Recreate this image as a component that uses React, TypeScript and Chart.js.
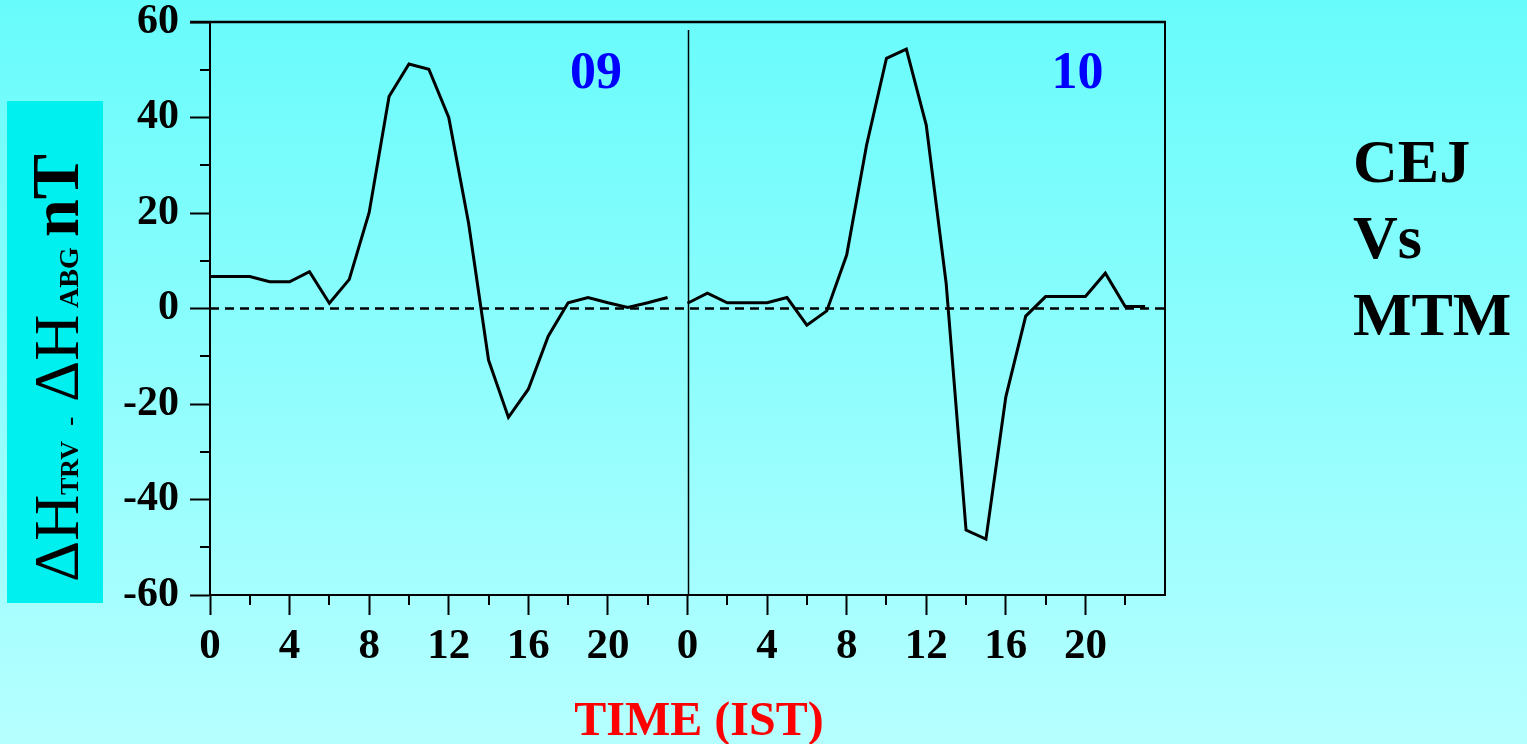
import React, { useEffect, useRef } from 'react';
import { Chart, registerables } from 'chart.js';

Chart.register(...registerables);

// Hours of the two days on one continuous axis (day 1: 0-23, day 2: 24-47)
const day1Hours = [0, 1, 2, 3, 4, 5, 6, 7, 8, 9, 10, 11, 12, 13, 14, 15, 16, 17, 18, 19, 20, 21, 22, 23];
const day2Hours = [24, 25, 26, 27, 28, 29, 30, 31, 32, 33, 34, 35, 36, 37, 38, 39, 40, 41, 42, 43, 44, 45, 46, 47];

// ΔH(TRV) - ΔH(ABG) in nT
const day1Values = [6.7, 6.7, 6.7, 5.6, 5.6, 7.7, 1.1, 6.1, 20.1, 44.4, 51.2, 50.1, 40.0, 17.8, -10.8, -22.8, -16.9, -5.8, 1.2, 2.3, 1.2, 0.2, 1.2, 2.3];
const day2Values = [1.1, 3.2, 1.2, 1.2, 1.2, 2.3, -3.5, -0.5, 11.2, 34.2, 52.4, 54.3, 38.4, 5.3, -46.4, -48.3, -18.5, -1.6, 2.5, 2.5, 2.5, 7.4, 0.4, 0.4];

// Zero reference line
const zeroLineX = [0, 48];
const zeroLineY = [0, 0];

// Axes
const xMin = 0;
const xMax = 48;
const xMajorStep = 4;
const xMinorTicks = [2, 6, 10, 14, 18, 22, 26, 30, 34, 38, 42, 46];
const dayBoundary = 24;
const yMin = -60;
const yMax = 60;
const yMajorStep = 20;
const yMinorTicks = [-50, -30, -10, 10, 30, 50];

// Day labels
const dayLabels = ['09', '10'];
const dayLabelX = [19.4, 43.6];
const dayLabelY = 49;

const sideText = ['CEJ', 'Vs', 'MTM'];
const xTitle = 'TIME (IST)';

const SERIF = '"Liberation Serif", "Times New Roman", "DejaVu Serif", serif';

const decorPlugin = {
  id: 'decor',
  beforeDraw(chart: any) {
    const { ctx, width, height } = chart;
    ctx.save();
    const g = ctx.createLinearGradient(0, 0, 0, height);
    g.addColorStop(0, '#68FBFB');
    g.addColorStop(1, '#B6FFFF');
    ctx.fillStyle = g;
    ctx.fillRect(0, 0, width, height);
    ctx.restore();
  },
  afterDraw(chart: any) {
    const { ctx, chartArea } = chart;
    const xs = chart.scales.x;
    const ys = chart.scales.y;
    const { left, right, top, bottom } = chartArea;
    ctx.save();

    // minor ticks
    ctx.strokeStyle = '#000';
    ctx.lineWidth = 2;
    ctx.beginPath();
    xMinorTicks.forEach((v) => {
      const px = Math.round(xs.getPixelForValue(v));
      ctx.moveTo(px, bottom);
      ctx.lineTo(px, bottom + 10);
    });
    yMinorTicks.forEach((v) => {
      const py = Math.round(ys.getPixelForValue(v));
      ctx.moveTo(left - 10, py);
      ctx.lineTo(left, py);
    });
    ctx.stroke();

    // top frame line
    ctx.lineWidth = 2.5;
    ctx.beginPath();
    ctx.moveTo(left - 20, top);
    ctx.lineTo(right + 1, top);
    ctx.stroke();

    // right frame line
    ctx.lineWidth = 2;
    ctx.beginPath();
    ctx.moveTo(right, top);
    ctx.lineTo(right, bottom);
    ctx.stroke();

    // day divider
    ctx.lineWidth = 1.5;
    ctx.beginPath();
    const dx = Math.round(xs.getPixelForValue(dayBoundary)) + 0.5;
    ctx.moveTo(dx, top + 8);
    ctx.lineTo(dx, bottom);
    ctx.stroke();

    // day labels
    ctx.fillStyle = '#0000FF';
    ctx.font = `bold 52px ${SERIF}`;
    ctx.textAlign = 'center';
    ctx.textBaseline = 'middle';
    dayLabels.forEach((t, i) => {
      ctx.fillText(t, xs.getPixelForValue(dayLabelX[i]), ys.getPixelForValue(dayLabelY));
    });

    // x axis title
    ctx.fillStyle = '#FF0000';
    ctx.font = `bold 48px ${SERIF}`;
    ctx.textAlign = 'center';
    ctx.textBaseline = 'alphabetic';
    ctx.fillText(xTitle, 699, 735);

    // side text
    ctx.fillStyle = '#000';
    ctx.font = `bold 62px ${SERIF}`;
    ctx.textAlign = 'left';
    const baselines = [182, 258, 335];
    sideText.forEach((t, i) => ctx.fillText(t, 1353, baselines[i]));

    // y title box
    ctx.fillStyle = '#00F0F0';
    ctx.fillRect(7, 101, 96, 502);

    // y title text (rotated)
    ctx.save();
    ctx.translate(78, 582);
    ctx.rotate(-Math.PI / 2);
    ctx.fillStyle = '#000';
    ctx.textAlign = 'left';
    ctx.textBaseline = 'alphabetic';
    const parts: [string, string, number][] = [
      ['\u0394H', `64px ${SERIF}`, 0],
      ['TRV', `bold 26px ${SERIF}`, 87],
      ['-', `28px ${SERIF}`, 156],
      ['\u0394H', `64px ${SERIF}`, 180],
      ['ABG', `bold 28px ${SERIF}`, 274],
      ['nT', `bold 68px ${SERIF}`, 345],
    ];
    parts.forEach(([t, f, off]) => {
      ctx.font = f;
      ctx.fillText(t, off, 0);
    });
    ctx.restore();

    ctx.restore();
  },
};

export default function App() {
  const canvasRef = useRef<HTMLCanvasElement | null>(null);

  useEffect(() => {
    const canvas = canvasRef.current;
    if (!canvas) return;
    const lineStyle = {
      borderColor: '#000',
      borderWidth: 3,
      pointRadius: 0,
      tension: 0,
      fill: false,
    };
    const chart = new Chart(canvas, {
      type: 'line',
      data: {
        datasets: [
          {
            label: 'Day 09',
            data: day1Hours.map((h, i) => ({ x: h, y: day1Values[i] })),
            ...lineStyle,
          },
          {
            label: 'Day 10',
            data: day2Hours.map((h, i) => ({ x: h, y: day2Values[i] })),
            ...lineStyle,
          },
          {
            label: 'Zero',
            data: zeroLineX.map((x, i) => ({ x, y: zeroLineY[i] })),
            borderColor: '#000',
            borderWidth: 2.5,
            borderDash: [9, 6],
            pointRadius: 0,
            fill: false,
          },
        ],
      },
      options: {
        responsive: false,
        animation: false,
        devicePixelRatio: 1,
        layout: { padding: { top: 22, right: 362, left: 0, bottom: 0 } },
        plugins: {
          legend: { display: false },
          tooltip: { enabled: false },
          title: { display: false },
        },
        scales: {
          x: {
            type: 'linear',
            position: 'bottom',
            min: xMin,
            max: xMax,
            ticks: {
              stepSize: xMajorStep,
              autoSkip: false,
              maxRotation: 0,
              padding: 6,
              color: '#000',
              font: { family: SERIF, size: 43, weight: 'bold' },
              callback: (v: any) => (Number(v) >= xMax ? '' : String(Number(v) % 24)),
            },
            grid: {
              drawOnChartArea: false,
              drawTicks: true,
              tickLength: 20,
              tickWidth: 2,
              tickColor: (c: any) => (c.tick && c.tick.value >= xMax ? 'rgba(0,0,0,0)' : '#000'),
            },
            border: { display: true, color: '#000', width: 2 },
            afterFit: (s: any) => {
              s.height = 149;
              s.paddingLeft = 0;
              s.paddingRight = 0;
            },
          },
          y: {
            type: 'linear',
            min: yMin,
            max: yMax,
            ticks: {
              stepSize: yMajorStep,
              padding: 11,
              color: '#000',
              font: { family: SERIF, size: 42, weight: 'bold' },
            },
            grid: {
              drawOnChartArea: false,
              drawTicks: true,
              tickLength: 20,
              tickWidth: 2,
              tickColor: '#000',
            },
            border: { display: true, color: '#000', width: 2 },
            afterFit: (s: any) => {
              s.width = 210;
              s.paddingTop = 0;
              s.paddingBottom = 0;
            },
          },
        },
      } as any,
      plugins: [decorPlugin],
    });
    return () => chart.destroy();
  }, []);

  return (
    <div style={{ position: 'fixed', left: 0, top: 0, width: 1527, height: 744 }}>
      <canvas ref={canvasRef} width={1527} height={744} style={{ display: 'block' }} />
    </div>
  );
}
